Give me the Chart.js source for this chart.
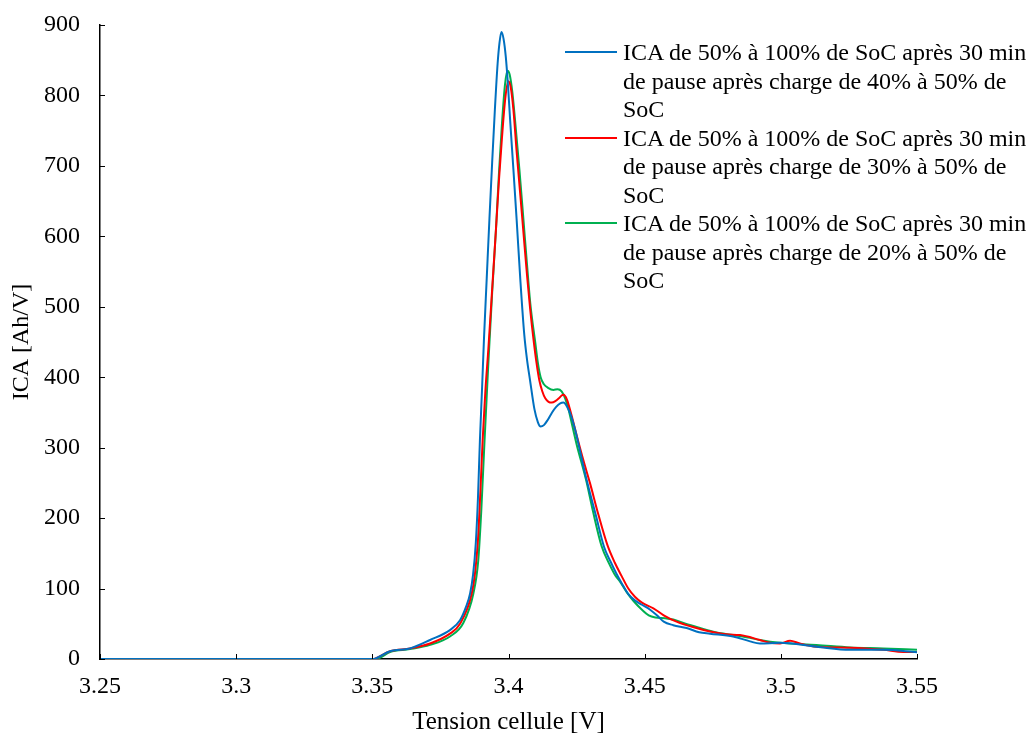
<!DOCTYPE html>
<html>
<head>
<meta charset="utf-8">
<script src="https://cdn.jsdelivr.net/npm/chart.js@4/dist/chart.umd.min.js"></script>
<style>
  html, body { margin: 0; padding: 0; background: #fff; }
  #wrap { position: relative; width: 1032px; height: 735px; }
  #legend { position: absolute; left: 565px; top: 38px; font-family: "Liberation Serif", "Times New Roman", serif; font-size: 24px; line-height: 28.5px; color: #000; }
  .item { position: relative; padding-left: 58px; white-space: pre; }
  .swatch { position: absolute; left: 0; top: 13px; width: 52px; height: 2px; }
</style>
</head>
<body>
<div id="wrap">
  <canvas id="c"></canvas>
  <div id="legend"></div>
</div>
<script>
// ---- data ----
const seriesLabels = [
  "ICA de 50% à 100% de SoC après 30 min\nde pause après charge de 40% à 50% de\nSoC",
  "ICA de 50% à 100% de SoC après 30 min\nde pause après charge de 30% à 50% de\nSoC",
  "ICA de 50% à 100% de SoC après 30 min\nde pause après charge de 20% à 50% de\nSoC"
];
const seriesColors = ["#0070C0", "#FF0000", "#00B050"];

const v40 =   [3.25, 3.30, 3.35, 3.351, 3.3565, 3.3638, 3.3712, 3.3785, 3.3822, 3.3845, 3.3859, 3.3870, 3.3880, 3.3888, 3.3895, 3.3903, 3.3910, 3.3920, 3.3930, 3.3940, 3.3950, 3.3960, 3.3967, 3.3974, 3.3982, 3.3990, 3.3998, 3.4006, 3.4018, 3.4030, 3.4044, 3.4058, 3.4068, 3.4079, 3.4095, 3.4108, 3.4118, 3.4130, 3.4145, 3.4160, 3.4175, 3.4190, 3.4202, 3.4215, 3.4230, 3.4245, 3.4260, 3.4287, 3.4320, 3.4351, 3.4375, 3.4395, 3.4415, 3.4440, 3.4465, 3.4490, 3.4520, 3.4545, 3.4570, 3.4605, 3.4654, 3.4700, 3.4740, 3.4825, 3.4887, 3.4923, 3.4997, 3.5131, 3.5254, 3.5376, 3.55];
const ica40 = [0,    0,    0,    0.5,   11,     15,     27,     41,     55,     75,     93,     120,    165,    230,    310,    385,    455,    540,    625,    705,    780,    845,    875,    890,    880,    855,    815,    765,    695,    623,    535,    460,    425,    396,    355,    336,    330,    332,    340,    350,    358,    363,    364,    358,    345,    325,    300,    254,    205,    159,    138,    122,    108,    92,     83,     77,     70,     62,     53,     48,     44,     38,     36,     32,     25,     22,     23,     17.5,   13,     13,     9.5];

const v30 =   [3.25, 3.30, 3.35, 3.351, 3.3565, 3.3638, 3.3712, 3.3785, 3.3822, 3.3865, 3.3878, 3.3888, 3.3897, 3.3905, 3.3915, 3.3926, 3.3940, 3.3954, 3.3965, 3.3976, 3.3988, 3.3999, 3.4008, 3.4018, 3.4030, 3.4042, 3.4055, 3.4068, 3.4080, 3.4092, 3.4103, 3.4113, 3.4124, 3.4135, 3.4147, 3.4159, 3.4172, 3.4185, 3.4195, 3.4202, 3.4215, 3.4230, 3.4250, 3.4275, 3.4299, 3.4330, 3.4363, 3.4390, 3.4415, 3.4440, 3.4465, 3.4490, 3.4532, 3.4570, 3.4617, 3.4680, 3.4740, 3.4800, 3.4850, 3.4923, 3.4960, 3.4997, 3.5034, 3.5070, 3.5131, 3.5254, 3.5376, 3.545, 3.55];
const ica30 = [0,    0,    0,    0.5,   11,     15,     22,     36,     50,     93,     125,    170,    240,    310,    380,    440,    525,    610,    680,    740,    795,    820,    812,    780,    720,    665,    605,    545,    495,    453,    420,    396,    380,    370,    365,    364,    366,    370,    374,    375,    368,    348,    318,    282,    250,    205,    162,    137,    118,    100,    88,     80,     72,     62,     53,     45,     39,     35,     34,     27,     23,     22,     26,     22,     17.5,   16,     13,     10,    10];

const v20 =   [3.25, 3.30, 3.35, 3.352, 3.3565, 3.3638, 3.3712, 3.3785, 3.3834, 3.3871, 3.3889, 3.3900, 3.3912, 3.3926, 3.3940, 3.3954, 3.3965, 3.3976, 3.3987, 3.3996, 3.4004, 3.4014, 3.4024, 3.4040, 3.4055, 3.4068, 3.4080, 3.4098, 3.4108, 3.4118, 3.4130, 3.4145, 3.4165, 3.4180, 3.4195, 3.4208, 3.4220, 3.4235, 3.4250, 3.4285, 3.4310, 3.4342, 3.4370, 3.4390, 3.4409, 3.4434, 3.4460, 3.4490, 3.4515, 3.4540, 3.4575, 3.4605, 3.4650, 3.4703, 3.4760, 3.4825, 3.4887, 3.4923, 3.4997, 3.5131, 3.5254, 3.5376, 3.55];
const ica20 = [0,    0,    0,    0.5,   10,     14,     20,     32,     51,     93,     140,    210,    310,    420,    520,    610,    690,    760,    815,    835,    830,    805,    765,    695,    623,    560,    505,    450,    420,    400,    390,    385,    382,    383,    380,    370,    355,    330,    305,    254,    210,    160,    135,    120,    110,    95,     82,     70,     62,     59,     58,     56,     50,     44,     38,     34,     30,     27,     23,     20,     16.5,   15,     13];

const xTickValues = [3.25, 3.3, 3.35, 3.4, 3.45, 3.5, 3.55];
const xTickLabels = ["3.25", "3.3", "3.35", "3.4", "3.45", "3.5", "3.55"];
const yTickLabels = ["0", "100", "200", "300", "400", "500", "600", "700", "800", "900"];

const xTitle = "Tension cellule [V]";
const yTitle = "ICA [Ah/V]";

// ---- build ----
const toPts = (xs, ys) => xs.map((x, i) => ({ x: x, y: ys[i] }));
const seriesData = [toPts(v40, ica40), toPts(v30, ica30), toPts(v20, ica20)];

const FONT = "'Liberation Serif', 'Times New Roman', serif";

const innerTicks = {
  id: 'innerTicks',
  afterDatasetsDraw(chart) {
    const ctx = chart.ctx;
    const xs = chart.scales.x, ys = chart.scales.y;
    ctx.save();
    ctx.strokeStyle = '#000';
    ctx.lineWidth = 1;
    ctx.beginPath();
    xs.ticks.forEach(t => {
      const px = Math.round(xs.getPixelForValue(t.value)) + 0.5;
      ctx.moveTo(px, ys.bottom);
      ctx.lineTo(px, ys.bottom - 5);
    });
    ys.ticks.forEach(t => {
      const py = Math.round(ys.getPixelForValue(t.value)) + 0.5;
      ctx.moveTo(xs.left, py);
      ctx.lineTo(xs.left + 5, py);
    });
    ctx.stroke();
    ctx.restore();
  }
};

new Chart(document.getElementById('c'), {
  type: 'line',
  data: {
    datasets: seriesData.map((d, i) => ({
      label: seriesLabels[i],
      data: d,
      borderColor: seriesColors[i],
      backgroundColor: seriesColors[i],
      borderWidth: 2,
      pointRadius: 0,
      fill: false,
      cubicInterpolationMode: 'monotone'
    }))
  },
  options: {
    responsive: true,
    maintainAspectRatio: false,
    animation: false,
    layout: { padding: { left: 0, right: 115, top: 25, bottom: 0 } },
    plugins: { legend: { display: false }, tooltip: { enabled: false } },
    scales: {
      x: {
        type: 'linear',
        min: 3.25, max: 3.55,
        afterFit: s => { s.height = 76; s.paddingLeft = 0; s.paddingRight = 0; },
        afterBuildTicks: s => { s.ticks = xTickValues.map(v => ({ value: v })); },
        grid: { display: false, drawTicks: false },
        border: { display: true, color: '#000', width: 1.5 },
        ticks: {
          autoSkip: false, maxRotation: 0, padding: 13, color: '#000',
          font: { family: FONT, size: 24 },
          callback: (v, i) => xTickLabels[i]
        },
        title: { display: true, text: xTitle, color: '#000', font: { family: FONT, size: 25, lineHeight: 1.0 }, padding: { top: 0, bottom: 0 } }
      },
      y: {
        type: 'linear',
        min: 0, max: 900,
        afterFit: s => { s.width = 100; s.paddingTop = 0; s.paddingBottom = 0; },
        grid: { display: false, drawTicks: false },
        border: { display: true, color: '#000', width: 1.5 },
        ticks: {
          stepSize: 100, padding: 20, color: '#000',
          font: { family: FONT, size: 24 },
          callback: (v) => yTickLabels[Math.round(v / 100)]
        },
        title: { display: true, text: yTitle, color: '#000', font: { family: FONT, size: 24, lineHeight: 1.0 }, padding: { top: 10, bottom: 0 } }
      }
    }
  },
  plugins: [innerTicks]
});

// HTML legend built from the same series arrays
const lg = document.getElementById('legend');
seriesLabels.forEach((lab, i) => {
  const d = document.createElement('div');
  d.className = 'item';
  const sw = document.createElement('span');
  sw.className = 'swatch';
  sw.style.background = seriesColors[i];
  d.appendChild(sw);
  d.appendChild(document.createTextNode(lab));
  lg.appendChild(d);
});
</script>
</body>
</html>
